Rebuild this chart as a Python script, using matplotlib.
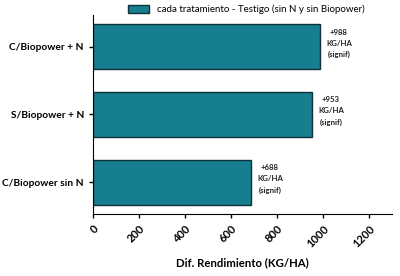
import matplotlib.pyplot as plt

categories = ["C/Biopower sin N", "S/Biopower + N", "C/Biopower + N"]
values = [688, 953, 988]
notes = ["+688\nKG/HA\n(signif)", "+953\nKG/HA\n(signif)", "+988\nKG/HA\n(signif)"]
ticks = [0, 200, 400, 600, 800, 1000, 1200]

plt.rcParams['font.family'] = ['Lato', 'DejaVu Sans']

fig = plt.figure(figsize=(4, 2.76), dpi=100)
ax = fig.add_axes([0.2325, 0.2246, 0.7475, 0.7211])

bars = ax.barh(range(len(categories)), values, height=0.67,
               color="#177e8f", edgecolor="#10303a", linewidth=1,
               label="cada tratamiento - Testigo (sin N y sin Biopower)")

# value notes to the right of each bar
for i, (v, note) in enumerate(zip(values, notes)):
    ax.text(v + 25, i + 0.05, note, fontsize=5.6, fontweight="bold",
            va="center", ha="left", multialignment="center",
            linespacing=1.7, color="#222222")

ax.set_xlim(0, 1300)
ax.set_ylim(-0.47, 2.47)
ax.set_yticks(range(len(categories)))
ax.set_yticklabels(categories, fontsize=7.3, fontweight="bold")
ax.set_xticks(ticks)
ax.set_xticklabels([str(t) for t in ticks], rotation=45, ha="right",
                   rotation_mode="anchor", fontsize=8, fontweight="bold")
ax.set_xlabel("Dif. Rendimiento (KG/HA)", fontsize=8.2, fontweight="bold", labelpad=6)

ax.spines["top"].set_visible(False)
ax.spines["right"].set_visible(False)
ax.tick_params(length=3, width=1)

fig.legend(loc="upper center", bbox_to_anchor=(0.615, 1.015), frameon=False,
           fontsize=7.0, handlelength=2.2, handleheight=0.9)

fig.savefig("out.png", dpi=100)
